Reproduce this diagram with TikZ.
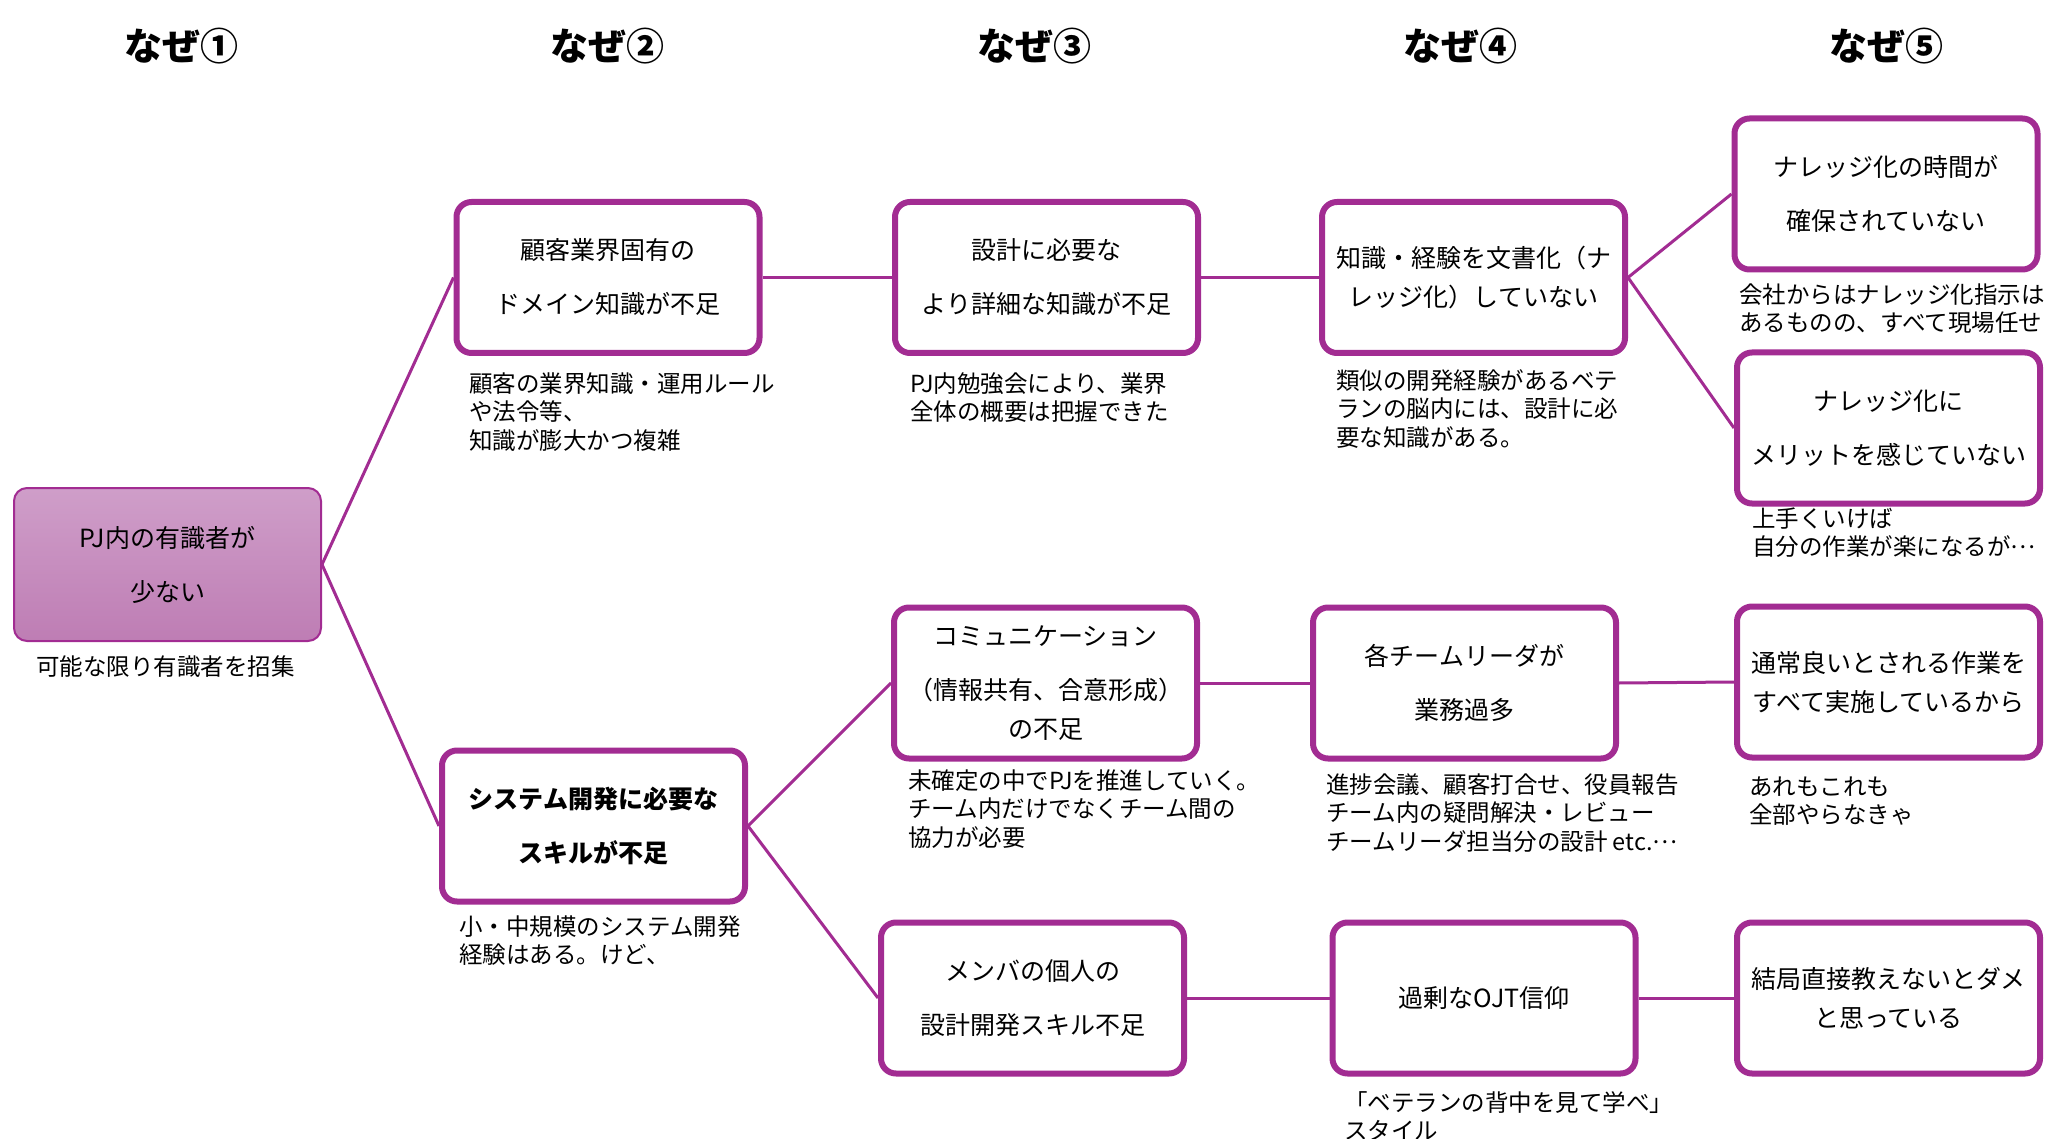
\documentclass[tikz,border=0pt]{standalone}
\usepackage{fontspec}
\setmainfont{Noto Sans CJK JP}
\definecolor{pp}{HTML}{A22C92}
\definecolor{rtop}{HTML}{CF9EC9}
\definecolor{rbot}{HTML}{BE7DB4}
\newcommand{\nrule}{\rule{0pt}{22pt}}
\newcommand{\middots}{\raisebox{0.3em}{…}}
\begin{document}
\begin{tikzpicture}[x=1pt,y=-1pt,
  whybox/.style={draw=pp, line width=6pt, rounded corners=15pt, fill=white,
    minimum width=303pt, minimum height=151pt, inner sep=0pt, align=center,
    font=\fontsize{25}{39}\selectfont},
  rootbox/.style={draw=pp, line width=2pt, rounded corners=13pt,
    top color=rtop, bottom color=rbot,
    minimum width=307pt, minimum height=153pt, inner sep=0pt, align=center,
    font=\fontsize{25}{39}\selectfont},
  note/.style={anchor=north west, inner sep=0pt, align=left,
    font=\fontsize{23.5}{28.5}\selectfont},
  title/.style={font=\fontsize{38}{40}\selectfont\bfseries, inner sep=0pt},
  link/.style={draw=pp, line width=3pt}
]
\fill[white] (0,0) rectangle (2048,1139);
\useasboundingbox (0,0) rectangle (2048,1139);

% titles
\node[title] (t1) at (181,46) {なぜ①};
\node[title] (t2) at (607,46) {なぜ②};
\node[title] (t3) at (1034,46) {なぜ③};
\node[title] (t4) at (1460,46) {なぜ④};
\node[title] (t5) at (1886,46) {なぜ⑤};

% boxes
\node[rootbox] (r) at (167.5,564.5) {PJ内の有識者が\\[15pt]少ない};
\node[whybox] (b1) at (608,277.5) {顧客業界固有の\\[15pt]ドメイン知識が不足};
\node[whybox] (b2) at (1046.5,277.5) {設計に必要な\\[15pt]より詳細な知識が不足};
\node[whybox] (b3) at (1473.5,277.5) {知識・経験を文書化（ナ\\レッジ化）していない};
\node[whybox] (b4a) at (1886,194) {ナレッジ化の時間が\\[15pt]確保されていない};
\node[whybox] (b4b) at (1888.5,428) {ナレッジ化に\\[15pt]メリットを感じていない};
\node[whybox, font=\fontsize{25}{39}\selectfont\bfseries] (sys) at (593.5,826) {システム開発に必要な\\[15pt]スキルが不足};
\node[whybox] (comm) at (1045.5,683) {コミュニケーション\\[15pt]（情報共有、合意形成）\\の不足};
\node[whybox] (lead) at (1464.5,683) {各チームリーダが\\[15pt]業務過多};
\node[whybox] (usual) at (1888.5,682) {通常良いとされる作業を\\すべて実施しているから};
\node[whybox] (mem) at (1032.5,998) {メンバの個人の\\[15pt]設計開発スキル不足};
\node[whybox] (ojt) at (1484,998) {過剰なOJT信仰};
\node[whybox] (res) at (1888.5,998) {結局直接教えないとダメ\\と思っている};

% notes
\node[note] (nr) at (36,653) {\nrule 可能な限り有識者を招集};
\node[note] (n1) at (469,370) {\nrule 顧客の業界知識・運用ルール\\や法令等、\\知識が膨大かつ複雑};
\node[note] (n2) at (910,370) {\nrule PJ内勉強会により、業界\\全体の概要は把握できた};
\node[note] (n3) at (1336,367) {\nrule 類似の開発経験があるベテ\\ランの脳内には、設計に必\\要な知識がある。};
\node[note] (n4a) at (1739,281) {\nrule 会社からはナレッジ化指示は\\あるものの、すべて現場任せ};
\node[note] (n4b) at (1752,505) {\nrule 上手くいけば\\自分の作業が楽になるが\middots};
\node[note] (nsys) at (459,913) {\nrule 小・中規模のシステム開発\\経験はある。けど、};
\node[note] (ncomm) at (908,767) {\nrule 未確定の中でPJを推進していく。\\チーム内だけでなくチーム間の\\協力が必要};
\node[note] (nlead) at (1326,771) {\nrule 進捗会議、顧客打合せ、役員報告\\チーム内の疑問解決・レビュー\\チームリーダ担当分の設計 etc.\middots};
\node[note] (nusual) at (1749,773) {\nrule あれもこれも\\全部やらなきゃ};
\node[note] (nojt) at (1344,1089) {\nrule 「ベテランの背中を見て学べ」\\スタイル};

% connectors
\draw[link] (r.east) -- (b1.west);
\draw[link] (r.east) -- (sys.west);
\draw[link] (b1.east) -- (b2.west);
\draw[link] (b2.east) -- (b3.west);
\draw[link] (b3.east) -- (b4a.west);
\draw[link] (b3.east) -- (b4b.west);
\draw[link] (sys.east) -- (comm.west);
\draw[link] (sys.east) -- (mem.west);
\draw[link] (comm.east) -- (lead.west);
\draw[link] (lead.east) -- (usual.west);
\draw[link] (mem.east) -- (ojt.west);
\draw[link] (ojt.east) -- (res.west);
\end{tikzpicture}
\end{document}
